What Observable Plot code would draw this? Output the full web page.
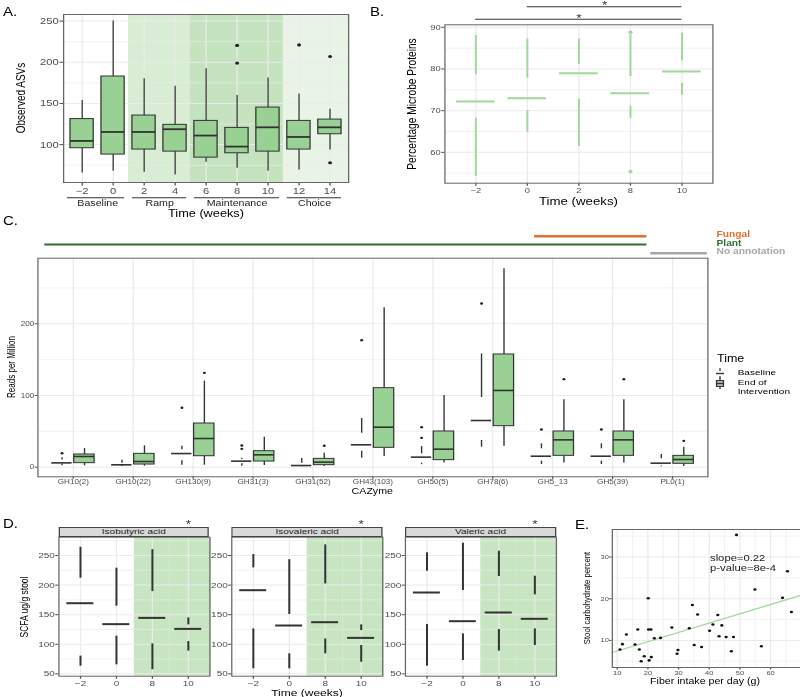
<!DOCTYPE html>
<html><head><meta charset="utf-8">
<script src="https://cdn.jsdelivr.net/npm/d3@7"></script>
<script src="https://cdn.jsdelivr.net/npm/@observablehq/plot@0.6"></script>
<style>
html,body{margin:0;padding:0;background:#fff;}
#wrap{width:800px;height:697px;overflow:hidden;position:relative;background:#fff;}
#fig{position:absolute;left:0;top:0;height:697px;transform-origin:0 0;font-family:"Liberation Sans",Arial,Helvetica,sans-serif;}
.t{position:absolute;white-space:nowrap;line-height:1;}
</style></head><body><div id="wrap"><div id="fig"></div></div>
<script>
// ---------------- DATA ----------------
// Panel A: observed ASVs by week
const weeksA = [-2, 0, 2, 4, 6, 8, 10, 12, 14];
const phaseOfWeek = ["Baseline","Baseline","Ramp","Ramp","Maintenance","Maintenance","Maintenance","Choice","Choice"];
const phases = ["Baseline","Ramp","Maintenance","Choice"];
const asvMin = [65.6, 67.6, 66.4, 63, 78.5, 71.2, 67.6, 69.2, 93.5];
const asvQ1  = [95.6, 87.9, 94, 91.5, 84.2, 89.5, 91.5, 94, 112.6];
const asvMed = [104.5, 115.4, 115.4, 118.7, 111, 97.6, 121, 109.3, 121];
const asvQ3  = [131, 182.7, 135.3, 124, 128.8, 120.3, 145, 128.8, 130.4];
const asvMax = [153.5, 250, 180, 171, 192, 159.6, 181, 161.6, 143];
const asvOutWeek = [8, 8, 12, 14, 14];
const asvOutVal  = [220.4, 199, 221, 207, 78];
const asvTicks = [100, 150, 200, 250];
const asvMinor = [75, 125, 175, 225];

// Panel B: percentage microbe proteins
const weeksB = [-2, 0, 2, 8, 10];
const protMin = [54.2, 64.8, 61.4, 68.2, 73.7];
const protQ1  = [68.2, 70, 72.8, 71.1, 76.5];
const protMed = [72.2, 73, 79, 74.2, 79.4];
const protQ3  = [78.6, 77.8, 81.1, 78.2, 82];
const protMax = [88, 87.2, 87.2, 88.2, 88.6];
const protOutWeek = [8, 8];
const protOutVal  = [88.8, 55.4];
const sigFrom = [0, -2];
const sigTo   = [10, 10];
const protTicks = [60, 70, 80, 90];
const protMinor = [55, 65, 75, 85];

// Panel C: CAZymes, reads per million
const cazymes = ["GH10(2)","GH10(22)","GH130(9)","GH31(3)","GH31(52)","GH43(103)","GH50(5)","GH78(6)","GH5_13","GH5(39)","PL0(1)"];
const cBaseMin = [2, 0.9, 2.8, 1.4, 0.5, 12.6, 3.5, 27.9, 3.7, 3.7, 0.5];
const cBaseQ1  = [4.5, 2.5, 8.8, 4.7, 1.5, 22.3, 5.5, 37.2, 8.4, 8.4, 1.5];
const cBaseMed = [6, 3.3, 19, 8.4, 2.3, 31.2, 14, 65.1, 15.3, 15.3, 5.6];
const cBaseQ3  = [10, 5.6, 24.2, 10.7, 5.6, 47.4, 18.6, 97.2, 25.6, 25.6, 11.6];
const cBaseMax = [13, 9.8, 29.3, 12.6, 12.1, 67.9, 28.8, 158, 32.6, 32.6, 17.7];
const cBaseOutCat = ["GH10(2)","GH130(9)","GH31(3)","GH31(3)","GH43(103)","GH50(5)","GH50(5)","GH78(6)","GH5_13","GH5(39)"];
const cBaseOutVal = [19.5, 82.8, 25.6, 30.2, 177.2, 40.9, 55.8, 228.4, 52.6, 52.6];
const cEoiMin = [1.9, 1.4, 2.8, 2.3, 0.9, 14.9, 6, 29.3, 6, 6, 0.9];
const cEoiQ1  = [5.6, 3.7, 15.3, 7.9, 2.8, 27, 9.8, 57.2, 15.8, 15.8, 4.7];
const cEoiMed = [14.9, 7.9, 40, 17.2, 7, 55.8, 25.1, 107, 38.1, 38.1, 10.7];
const cEoiQ3  = [17.7, 18.6, 60.9, 22.3, 11.6, 110.2, 49.8, 157.2, 49.8, 49.8, 15.8];
const cEoiMax = [26, 29.8, 120, 41.9, 19.5, 222.3, 100, 276.7, 94, 94, 27.9];
const cEoiOutCat = ["GH130(9)","GH31(52)","GH5_13","GH5(39)","PL0(1)"];
const cEoiOutVal = [131.6, 29.8, 122.8, 122.8, 36.7];
const annotNames = ["Fungal","Plant","No annotation"];
const annotFrom  = ["GH5_13","GH10(2)","PL0(1)"];
const annotTo    = ["GH5(39)","GH5(39)","PL0(1)"];
const readTicks = [0, 100, 200];
const readMinor = [50, 150, 250];

// Panel D: SCFA
const acids = ["Isobutyric acid","Isovaleric acid","Valeric acid"];
const weeksD = [-2, 0, 8, 10];
const interventionWeeksD = [8, 10];
const scfaMin = [[63, 65.2, 57, 88.3], [58.5, 58.5, 83.9, 69.7], [63, 72.5, 88.3, 97.9]];
const scfaQ1  = [[79.9, 113.7, 100.7, 104.6], [126, 83.9, 109, 97.9], [133.4, 117.6, 125, 126]];
const scfaMed = [[169.4, 134, 144.6, 126], [191.4, 131.7, 137.3, 110.8], [187.5, 139, 153.7, 143]];
const scfaQ3  = [[211.7, 164.4, 189, 132.8], [229.2, 150.3, 202, 123.2], [223.5, 190.8, 214.5, 183.5]];
const scfaMax = [[264, 228.6, 260, 144.6], [251.7, 243, 268, 132.8], [254.5, 270.8, 257.3, 215]];
const scfaSigWeek = [10, 10, 10];
const scfaTicks = [50, 100, 150, 200, 250];
const scfaMinor = [75, 125, 175, 225, 275];

// Panel E: fiber vs stool carbohydrate
const fiber = [10.9, 11.7, 13, 15.8, 16.7, 17.2, 17.8, 18.8, 20.1, 20.2, 21, 20.4, 21.1, 22.1, 24.1, 27.8, 29.5, 29.8, 33.5, 34.5, 35.1, 36.2, 37.5, 40.1, 41.2, 42.8, 43.2, 44.1, 45.5, 47.2, 47.9, 48.9, 54.9, 57, 63.9, 65.5, 66.8];
const carbPct = [7.8, 9.1, 11.4, 9, 12.6, 7.8, 5, 6.2, 20.1, 12.6, 12.6, 5.2, 6, 10.5, 10.6, 13.1, 6.8, 7.7, 12.9, 18.5, 8.9, 16.2, 8.4, 12.3, 13.8, 16.1, 11, 13.6, 10.8, 7.4, 10.8, 35.3, 22.2, 8.6, 20.2, 26.6, 16.8];
const fitX = [8.4, 69.8];
const fitY = [7.1, 20.8];
const fiberTicks = [10, 20, 30, 40, 50, 60];
const fiberMinor = [15, 25, 35, 45, 55, 65];
const carbTicks = [10, 20, 30];
const carbMinor = [5, 15, 25, 35];

// ---------------- STYLE / LAYOUT ----------------
const K = 1.25;                       // horizontal stretch of the reference figure
const X = v => v / K;
const FONT = '"Liberation Sans", Arial, Helvetica, sans-serif';
const GREEN = "#99d194", GREEN_LINE = "#9fd89a", DARK = "#333333", GRID = "#ebebeb", FRAME = "#666666";
const phaseShade = {Ramp: "#d8edd3", Maintenance: "#c4e3be", Choice: "#e8f4e5"};
const shadeD = "#c6e5c0";
const annotColor = ["#e0712c", "#2f6f33", "#a6a6a6"];
const annotYpx = [235.7, 244, 252.7];
const annotInL = [12, 1.6, 8.4];
const annotInR = [-4.4, -4.4, -5];
const sigYpx = [6.3, 18.7];
const minus = d => String(d).replace("-", "\u2212");

const fig = document.getElementById("fig");
fig.style.width = X(800) + "px";
fig.style.transform = `scaleX(${K})`;

function put(svg, left, top) {
  svg.style.position = "absolute";
  svg.style.left = X(left) + "px";
  svg.style.top = top + "px";
  fig.appendChild(svg);
}
function label(text, x, y, o = {}) {
  const d = document.createElement("div");
  d.className = "t";
  d.textContent = text;
  d.style.left = X(x) + "px";
  d.style.top = y + "px";
  d.style.fontSize = (o.size || 10) + "px";
  d.style.color = o.color || "#000";
  if (o.bold) d.style.fontWeight = "bold";
  const tx = o.anchor === "start" ? "0" : o.anchor === "end" ? "-100%" : "-50%";
  d.style.transform = `translate(${tx},-50%)` + (o.rot ? ` rotate(${o.rot}deg)` : "");
  fig.appendChild(d);
}
const style = fs => ({fontFamily: FONT, fontSize: fs + "px", background: "transparent", overflow: "visible", color: "#4d4d4d"});
const stepOf = (d, n, pi, po) => (d.w - d.ml - d.mr) / (n - pi + 2 * po);
const dims = d => ({width: d.w, height: d.h, marginLeft: d.ml, marginRight: d.mr, marginTop: d.mt, marginBottom: d.mb});
// asterisk glyph: visual centre sits ~0.25em above the text's middle anchor
const starDy = (targetCenter, anchorY, fs) => targetCenter + 0.25 * fs - anchorY;

// ---------------- PANEL A ----------------
{
  const d = {w: X(380), h: 220, ml: X(63), mr: X(32), mt: 14, mb: 38};
  const yDom = [54, 258];
  const s = stepOf(d, weeksA.length, 0.25, 0.225);
  const rows = weeksA.map((week, i) => ({week, min: asvMin[i], q1: asvQ1[i], med: asvMed[i], q3: asvQ3[i], max: asvMax[i]}));
  const outs = asvOutWeek.map((week, i) => ({week, v: asvOutVal[i]}));
  const shade = weeksA.map((w, j) => phaseShade[phaseOfWeek[j]] ? Plot.barY([w], {
    x: v => v, y1: yDom[0], y2: yDom[1], fill: phaseShade[phaseOfWeek[j]],
    insetLeft: -0.125 * s, insetRight: j === weeksA.length - 1 ? -0.225 * s - 1 : -0.125 * s
  }) : null).filter(Boolean);
  const groups = phases.flatMap(p => {
    const ws = weeksA.filter((w, j) => phaseOfWeek[j] === p);
    return [
      // rule anchored at the frame bottom (y domain minimum), offset into the margin
      Plot.ruleY([p], {y: () => yDom[0], x1: () => ws[0], x2: () => ws[ws.length - 1], insetLeft: p === "Baseline" ? -0.1 * s : 0, stroke: DARK, strokeWidth: 1, dy: 197.3 - (d.h - d.mb)}),
      Plot.text([p], {x: () => ws[0], text: v => v, frameAnchor: "bottom", lineAnchor: "middle", dy: 20.5, dx: (ws.length - 1) * s / 2, fill: "#1a1a1a", fontSize: 8.5})
    ];
  });
  const svg = Plot.plot({
    ...dims(d), style: style(9),
    x: {type: "band", domain: weeksA, paddingInner: 0.25, paddingOuter: 0.225, round: false, tickSize: 3.5, tickPadding: 1.5, tickFormat: minus, label: null},
    y: {domain: yDom, ticks: asvTicks, tickSize: 2.8, tickPadding: 1, label: null},
    marks: [
      ...shade,
      Plot.ruleY(asvMinor, {stroke: GRID, strokeWidth: 0.6}),
      Plot.ruleY(asvTicks, {stroke: GRID, strokeWidth: 1}),
      Plot.ruleX(weeksA, {stroke: GRID, strokeWidth: 1}),
      Plot.ruleX(rows, {x: "week", y1: "q3", y2: "max", stroke: DARK, strokeWidth: 1}),
      Plot.ruleX(rows, {x: "week", y1: "min", y2: "q1", stroke: DARK, strokeWidth: 1}),
      Plot.barY(rows, {x: "week", y1: "q1", y2: "q3", fill: GREEN, stroke: DARK, strokeWidth: 1}),
      Plot.tickY(rows, {x: "week", y: "med", stroke: DARK, strokeWidth: 1.8}),
      Plot.dot(outs, {x: "week", y: "v", r: 1.6, fill: "#222", stroke: null}),
      Plot.frame({stroke: FRAME}),
      ...groups
    ]
  });
  put(svg, 0, 0);
  label("A.", 3, 12, {anchor: "start", size: 12});
  label("Observed ASVs", 21, 98, {rot: -90, size: 10});
  label("Time (weeks)", 206, 213.5, {size: 10.2});
}

// ---------------- PANEL B ----------------
{
  const d = {w: X(420), h: 220, ml: X(64.3), mr: X(87.7), mt: 24.3, mb: 37.3};
  const yDom = [52.6, 90.6];
  const s = stepOf(d, weeksB.length, 0.25, 0.225);
  const bw = 0.75 * s;
  const rows = weeksB.map((week, i) => ({week, min: protMin[i], q1: protQ1[i], med: protMed[i], q3: protQ3[i], max: protMax[i]}));
  const outs = protOutWeek.map((week, i) => ({week, v: protOutVal[i]}));
  const sig = sigFrom.flatMap((f, i) => {
    const span = weeksB.indexOf(sigTo[i]) - weeksB.indexOf(f);
    return [
      // bracket anchored at the frame top (y domain maximum), offset into the top margin
      Plot.ruleY([i], {y: () => yDom[1], x1: () => f, x2: () => sigTo[i], insetLeft: bw / 2, insetRight: bw / 2, stroke: DARK, strokeWidth: 1, dy: sigYpx[i] - d.mt}),
      Plot.text([i], {x: () => f, text: () => "*", frameAnchor: "top", lineAnchor: "middle", dx: span * s / 2, dy: starDy(sigYpx[i] - 3.6, d.mt, 11), fontSize: 11, fill: DARK})
    ];
  });
  const svg = Plot.plot({
    ...dims(d), style: style(7.5),
    x: {type: "band", domain: weeksB, paddingInner: 0.25, paddingOuter: 0.225, round: false, tickSize: 3, tickPadding: 1.5, tickFormat: minus, label: null},
    y: {domain: yDom, ticks: protTicks, tickSize: 2.4, tickPadding: 1, label: null},
    marks: [
      Plot.ruleY(protMinor, {stroke: GRID, strokeWidth: 0.6}),
      Plot.ruleY(protTicks, {stroke: GRID, strokeWidth: 1}),
      Plot.ruleX(weeksB, {stroke: GRID, strokeWidth: 1}),
      Plot.ruleX(rows, {x: "week", y1: "q3", y2: "max", stroke: GREEN_LINE, strokeWidth: 1.6}),
      Plot.ruleX(rows, {x: "week", y1: "min", y2: "q1", stroke: GREEN_LINE, strokeWidth: 1.6}),
      Plot.tickY(rows, {x: "week", y: "med", stroke: GREEN_LINE, strokeWidth: 2}),
      Plot.dot(outs, {x: "week", y: "v", r: 1.7, fill: GREEN_LINE, stroke: null}),
      Plot.frame({stroke: FRAME}),
      ...sig
    ]
  });
  put(svg, 380, 0);
  label("B.", 370, 12, {anchor: "start", size: 12});
  label("Percentage Microbe Proteins", 413, 103.5, {rot: -90, size: 10.2});
  label("Time (weeks)", 578.5, 200.5, {size: 10.6});
}

// ---------------- PANEL C ----------------
{
  const top = 225;
  const d = {w: X(712), h: 270, ml: X(37.3), mr: X(4.7), mt: 32.7, mb: 18.7};
  const yDom = [-13.4, 291.5];
  const s = stepOf(d, cazymes.length, 0, 0.09);
  const off = 0.1875 * s, hb = 0.17 * s;
  const inE = {insetLeft: s / 2 + off - hb, insetRight: s / 2 - off - hb};
  const inB = {insetLeft: s / 2 - off - hb, insetRight: s / 2 + off - hb};
  const base = cazymes.map((c, i) => ({c, min: cBaseMin[i], q1: cBaseQ1[i], med: cBaseMed[i], q3: cBaseQ3[i], max: cBaseMax[i]}));
  const eoi = cazymes.map((c, i) => ({c, min: cEoiMin[i], q1: cEoiQ1[i], med: cEoiMed[i], q3: cEoiQ3[i], max: cEoiMax[i]}));
  const bOut = cBaseOutCat.map((c, i) => ({c, v: cBaseOutVal[i]}));
  const eOut = cEoiOutCat.map((c, i) => ({c, v: cEoiOutVal[i]}));
  const annot = annotNames.map((n, i) => Plot.ruleY([n], {
    y: () => yDom[1], x1: () => annotFrom[i], x2: () => annotTo[i], stroke: annotColor[i], strokeWidth: i === 1 ? 2.2 : 2.6,
    insetLeft: X(annotInL[i]), insetRight: X(annotInR[i]), dy: (annotYpx[i] - top) - d.mt
  }));
  const svg = Plot.plot({
    ...dims(d), style: style(6.5),
    x: {type: "band", domain: cazymes, paddingInner: 0, paddingOuter: 0.09, round: false, tickSize: 2.5, tickPadding: 0.5, label: null},
    y: {domain: yDom, ticks: readTicks, tickSize: 2, tickPadding: 1, label: null},
    marks: [
      Plot.ruleY(readMinor, {stroke: GRID, strokeWidth: 0.6}),
      Plot.ruleY(readTicks, {stroke: GRID, strokeWidth: 1}),
      Plot.ruleX(cazymes, {stroke: GRID, strokeWidth: 1}),
      Plot.ruleX(base, {x: "c", y1: "q3", y2: "max", dx: -off, stroke: DARK, strokeWidth: 1.1}),
      Plot.ruleX(base, {x: "c", y1: "min", y2: "q1", dx: -off, stroke: DARK, strokeWidth: 1.1}),
      Plot.tickY(base, {x: "c", y: "med", ...inB, stroke: DARK, strokeWidth: 1.6}),
      Plot.dot(bOut, {x: "c", y: "v", dx: -off, r: 1.2, fill: "#222", stroke: null}),
      Plot.ruleX(eoi, {x: "c", y1: "q3", y2: "max", dx: off, stroke: DARK, strokeWidth: 1.1}),
      Plot.ruleX(eoi, {x: "c", y1: "min", y2: "q1", dx: off, stroke: DARK, strokeWidth: 1.1}),
      Plot.barY(eoi, {x: "c", y1: "q1", y2: "q3", ...inE, fill: GREEN, stroke: DARK, strokeWidth: 1}),
      Plot.tickY(eoi, {x: "c", y: "med", ...inE, stroke: DARK, strokeWidth: 1.6}),
      Plot.dot(eOut, {x: "c", y: "v", dx: off, r: 1.2, fill: "#222", stroke: null}),
      Plot.frame({stroke: FRAME}),
      ...annot
    ]
  });
  put(svg, 0, top);
  label("C.", 3, 221, {anchor: "start", size: 12});
  label("Reads per Million", 12.7, 367, {rot: -90, size: 8});
  label("CAZyme", 372.3, 490.5, {size: 8.5});
  annotNames.forEach((n, i) => label(n, 716.5, annotYpx[i] - 0.3, {anchor: "start", size: 8.2, bold: true, color: annotColor[i]}));
  label("Time", 717, 359, {anchor: "start", size: 10});
  label("Baseline", 737.7, 373.3, {anchor: "start", size: 8});
  label("End of", 737.7, 382.7, {anchor: "start", size: 8});
  label("Intervention", 737.7, 391.7, {anchor: "start", size: 8});
  // legend keys
  const ns = "http://www.w3.org/2000/svg";
  const key = (y, eoiKey) => {
    const k = document.createElementNS(ns, "svg");
    k.setAttribute("width", X(10)); k.setAttribute("height", 11);
    k.style.position = "absolute"; k.style.left = X(714.5) + "px"; k.style.top = (y - 5.5) + "px";
    const cx = X(5);
    const add = (tag, at) => { const e = document.createElementNS(ns, tag); for (const a in at) e.setAttribute(a, at[a]); k.appendChild(e); };
    add("line", {x1: cx, x2: cx, y1: 0, y2: 3, stroke: DARK, "stroke-width": 1});
    add("line", {x1: cx, x2: cx, y1: 8, y2: 11, stroke: DARK, "stroke-width": 1});
    if (eoiKey) add("rect", {x: X(1.5), y: 2.5, width: X(7), height: 6, fill: GREEN, stroke: DARK, "stroke-width": 1});
    add("line", {x1: X(1), x2: X(9), y1: 5.5, y2: 5.5, stroke: DARK, "stroke-width": 1.4});
    fig.appendChild(k);
  };
  key(373, false);
  key(383, true);
}

// ---------------- PANEL D ----------------
{
  const top = 510;
  const lefts = [0, 209.3, 382.7];
  const frameL = [58.3, 231.7, 405];
  const rights = [215, 180, 180];
  const yDom = [46, 281];
  acids.forEach((acid, a) => {
    const d = {w: X(rights[a]), h: 180, ml: X(frameL[a] - lefts[a]), mr: X(rights[a] - (frameL[a] - lefts[a]) - 151), mt: 26.7, mb: 14.3};
    const s = stepOf(d, weeksD.length, 0.25, 0.225);
    const rows = weeksD.map((week, i) => ({week, min: scfaMin[a][i], q1: scfaQ1[a][i], med: scfaMed[a][i], q3: scfaQ3[a][i], max: scfaMax[a][i]}));
    const shade = interventionWeeksD.map(w => Plot.barY([w], {
      x: v => v, y1: yDom[0], y2: yDom[1], fill: shadeD,
      insetLeft: -0.125 * s, insetRight: w === weeksD[weeksD.length - 1] ? -0.225 * s - 1 : -0.125 * s
    }));
    const svg = Plot.plot({
      ...dims(d), style: style(8),
      x: {type: "band", domain: weeksD, paddingInner: 0.25, paddingOuter: 0.225, round: false, tickSize: 3, tickPadding: 1, tickFormat: minus, label: null},
      y: {domain: yDom, ticks: scfaTicks, tickSize: 2.4, tickPadding: 0.8, label: null},
      marks: [
        ...shade,
        Plot.ruleY(scfaMinor, {stroke: GRID, strokeWidth: 0.6}),
        Plot.ruleY(scfaTicks, {stroke: GRID, strokeWidth: 1}),
        Plot.ruleX(weeksD, {stroke: GRID, strokeWidth: 1}),
        Plot.ruleX(rows, {x: "week", y1: "q3", y2: "max", stroke: DARK, strokeWidth: 1.6}),
        Plot.ruleX(rows, {x: "week", y1: "min", y2: "q1", stroke: DARK, strokeWidth: 1.6}),
        Plot.tickY(rows, {x: "week", y: "med", stroke: DARK, strokeWidth: 2}),
        Plot.frame({stroke: FRAME}),
        Plot.text([acid], {x: () => scfaSigWeek[a], text: () => "*", frameAnchor: "top", lineAnchor: "middle", dy: starDy(521.7 - top, d.mt, 11), fontSize: 11, fill: DARK})
      ]
    });
    put(svg, lefts[a], top);
    const strip = document.createElement("div");
    strip.className = "t";
    Object.assign(strip.style, {left: X(frameL[a]) + "px", top: "526.7px", width: X(151) + "px", height: "10px", boxSizing: "border-box",
      background: "#d9d9d9", border: "1px solid #444", fontSize: "8px", lineHeight: "8.5px", textAlign: "center", color: "#1a1a1a"});
    strip.textContent = acid;
    fig.appendChild(strip);
  });
  label("D.", 3, 523.5, {anchor: "start", size: 12});
  label("SCFA ug/g stool", 25, 606.7, {rot: -90, size: 8.5});
  label("Time (weeks)", 307, 692.5, {size: 9.6});
}

// ---------------- PANEL E ----------------
{
  const top = 505;
  const d = {w: X(225), h: 192, ml: X(36.7), mr: 0, mt: 24, mb: 30};
  const pts = fiber.map((f, i) => ({f, c: carbPct[i]}));
  const fit = fitX.map((f, i) => ({f, c: fitY[i]}));
  const svg = Plot.plot({
    ...dims(d), style: style(6),
    x: {domain: [8.4, 69.8], ticks: fiberTicks, tickSize: 2.5, tickPadding: 1, label: null},
    y: {domain: [3.5, 36.6], ticks: carbTicks, tickSize: 2, tickPadding: 0.8, label: null},
    marks: [
      Plot.ruleY(carbMinor, {stroke: GRID, strokeWidth: 0.6}),
      Plot.ruleY(carbTicks, {stroke: GRID, strokeWidth: 1}),
      Plot.ruleX(fiberMinor, {stroke: GRID, strokeWidth: 0.6}),
      Plot.ruleX(fiberTicks, {stroke: GRID, strokeWidth: 1}),
      Plot.line(fit, {x: "f", y: "c", stroke: GREEN_LINE, strokeWidth: 1.3}),
      Plot.dot(pts, {x: "f", y: "c", r: 1.3, fill: "#111", stroke: null}),
      Plot.frame({stroke: FRAME})
    ]
  });
  put(svg, 575, top);
  label("E.", 575, 525, {anchor: "start", size: 12});
  label("Stool carbohydrate percent", 588, 598, {rot: -90, size: 7.7});
  label("Fiber intake per day (g)", 705, 681, {size: 8.5});
  label("slope=0.22", 710, 557.7, {anchor: "start", size: 9, color: "#1a1a1a"});
  label("p-value=8e-4", 710, 568.3, {anchor: "start", size: 9, color: "#1a1a1a"});
}
</script></body></html>
